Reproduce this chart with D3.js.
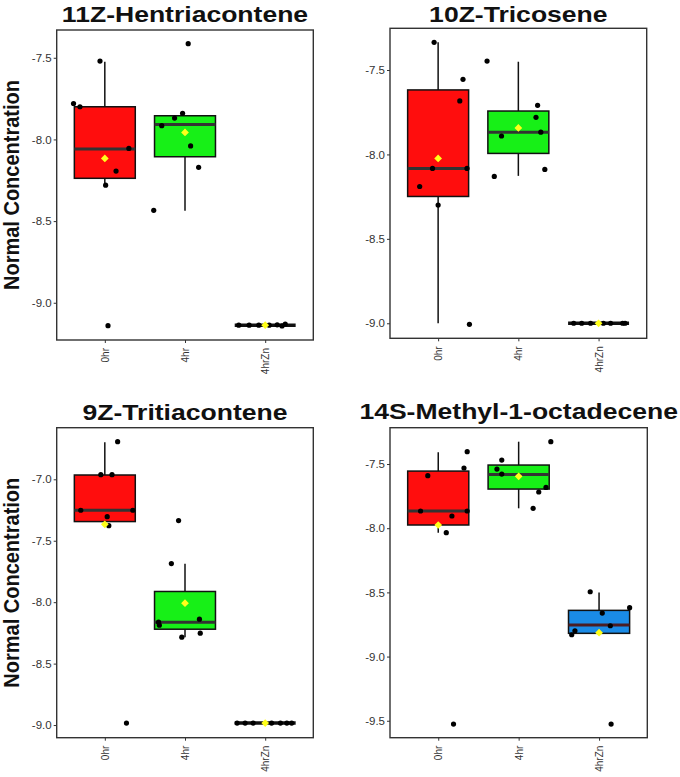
<!DOCTYPE html>
<html>
<head>
    <meta charset="utf-8">
    <title></title>
    <script src="https://d3js.org/d3.v7.min.js"></script>
    <style>
        body { margin: 0; background: #fff; }
        text { font-family: "Liberation Sans", Arial, sans-serif; }
    </style>
</head>
<body>
    <svg id="chart" width="680" height="777"></svg>

    <script>
    // groups and colours
    const groups = ["0hr", "4hr", "4hrZn"];
    const titles = ["11Z-Hentriacontene", "10Z-Tricosene", "9Z-Tritiacontene", "14S-Methyl-1-octadecene"];
    const boxFills = ["#ff0d0d", "#17f017", "#1a8be6"];
    const medianCols = ["#333333", "#333333", "#4b1c22"];

    // box stats per group: [lowWhisker, q1, median, q3, highWhisker, mean]
    const stats1 = [[-8.28, -8.238, -8.059, -7.80, -7.524, -8.116],
                    [-8.437, -8.106, -7.908, -7.855, -7.855, -7.957],
                    [-9.137, -9.137, -9.137, -9.137, -9.137, -9.137]];
    const stats2 = [[-9.0, -8.249, -8.083, -7.618, -7.336, -8.024],
                    [-8.127, -7.994, -7.868, -7.743, -7.451, -7.843],
                    [-9.0, -9.0, -9.0, -9.0, -9.0, -9.0]];
    const stats3 = [[-7.377, -7.344, -7.252, -6.965, -6.699, -7.366],
                    [-8.285, -8.22, -8.163, -7.913, -7.688, -8.008],
                    [-8.984, -8.984, -8.984, -8.984, -8.984, -8.984]];
    const stats4 = [[-8.035, -7.975, -7.866, -7.555, -7.409, -7.975],
                    [-7.845, -7.695, -7.581, -7.508, -7.326, -7.596],
                    [-8.83, -8.819, -8.755, -8.640, -8.5, -8.814]];

    // jittered sample values per group
    const vals1 = [[-7.78, -7.80, -7.52, -8.055, -8.194, -8.28, -9.14],
                   [-7.414, -7.84, -7.869, -7.916, -8.04, -8.171, -8.434],
                   [-9.137, -9.137, -9.137, -9.137, -9.135, -9.13, -9.142]];
    const vals2 = [[-7.336, -7.555, -7.683, -8.083, -8.083, -8.19, -8.30, -9.006],
                   [-7.447, -7.709, -7.78, -7.868, -7.891, -8.13, -8.089],
                   [-9.0, -9.0, -9.0, -9.0, -9.0, -9.0, -9.0]];
    const vals3 = [[-6.694, -6.962, -6.962, -7.252, -7.252, -7.304, -7.377, -8.984],
                   [-7.336, -7.686, -8.187, -8.163, -8.138, -8.252, -8.285],
                   [-8.984, -8.984, -8.984, -8.984, -8.984, -8.984, -8.984]];
    const vals4 = [[-7.404, -7.531, -7.591, -7.866, -7.866, -7.905, -8.035, -9.526],
                   [-7.326, -7.469, -7.539, -7.578, -7.718, -7.682, -7.845],
                   [-8.495, -8.661, -8.619, -8.760, -8.799, -8.830, -9.526]];

    // jitter (fraction of category step)
    const jit1 = [[-0.39, -0.31, -0.06, 0.30, 0.14, 0.01, 0.04],
                  [0.04, -0.03, -0.13, -0.29, 0.07, 0.17, -0.39],
                  [-0.33, -0.2, -0.08, 0.05, 0.15, 0.25, 0.21]];
    const jit2 = [[-0.05, 0.31, 0.27, -0.07, 0.36, -0.23, 0.0, 0.39],
                  [-0.39, 0.24, 0.22, 0.28, -0.21, -0.30, 0.33],
                  [-0.31, -0.21, -0.10, 0.06, 0.15, 0.30, 0.33]];
    const jit3 = [[0.16, -0.05, 0.09, -0.30, 0.35, 0.03, 0.05, 0.27],
                  [-0.08, -0.17, -0.32, -0.33, 0.18, 0.19, -0.04],
                  [-0.35, -0.25, -0.15, 0.08, 0.19, 0.27, 0.33]];
    const jit4 = [[0.36, 0.32, -0.13, -0.22, 0.36, 0.17, 0.10, 0.19],
                  [0.40, -0.21, -0.27, -0.21, 0.25, 0.34, 0.18],
                  [-0.11, 0.04, 0.38, 0.14, -0.30, -0.34, 0.15]];

    // y domains and tick values
    const domains = [[-9.228, -7.33], [-9.089, -7.253], [-9.103, -6.58], [-9.632, -7.217]];
    const ticks = [[-9, -8.5, -8, -7.5], [-9, -8.5, -8, -7.5],
                   [-9, -8.5, -8, -7.5, -7], [-9.5, -9, -8.5, -8, -7.5]];

    const allStats = [stats1, stats2, stats3, stats4];
    const allVals = [vals1, vals2, vals3, vals4];
    const allJit = [jit1, jit2, jit3, jit4];

    // panel frames
    const frames = [
        { x0: 56.7, x1: 313.3, y0: 30,    y1: 340,   tY: 22,  ylab: true },
        { x0: 390,  x1: 646.7, y0: 28.3,  y1: 338.3, tY: 21.7, ylab: false },
        { x0: 56.7, x1: 313.3, y0: 427.7, y1: 737.7, tY: 420, ylab: true },
        { x0: 390,  x1: 647.3, y0: 427.7, y1: 737.7, tY: 419, ylab: false }
    ];

    let svg = d3.select("#chart");

    frames.forEach(function(f, p) {
        let g = svg.append("g");
        let x = d3.scalePoint().domain(groups).range([f.x0, f.x1]).padding(0.6);
        let y = d3.scaleLinear().domain(domains[p]).range([f.y1, f.y0]);
        let step = x.step();
        let bw = step * 0.76;

        // title
        g.append("text")
            .attr("transform", "translate(" + ((f.x0 + f.x1) / 2) + "," + f.tY + ") scale(1.18,1)")
            .attr("text-anchor", "middle")
            .attr("font-size", 22.5).attr("font-weight", "bold")
            .attr("fill", "#111")
            .text(titles[p]);

        if (f.ylab) {
            g.append("text")
                .attr("transform", "translate(18.5," + ((f.y0 + f.y1) / 2) + ") scale(1.1,1) rotate(-90)")
                .attr("text-anchor", "middle")
                .attr("font-size", 20).attr("font-weight", "bold")
                .attr("fill", "#111")
                .text("Normal Concentration");
        }

        // axes
        let ya = g.append("g").attr("transform", "translate(" + f.x0 + ",0)")
            .call(d3.axisLeft(y).tickValues(ticks[p]).tickSize(3).tickPadding(2)
                .tickFormat(d => d.toFixed(1)));
        ya.select(".domain").remove();
        ya.selectAll("line").attr("stroke", "#333");
        ya.selectAll("text").attr("font-size", 11.5).attr("fill", "#333")
            .attr("font-family", "'Liberation Sans', Arial, sans-serif");

        let xa = g.append("g").attr("transform", "translate(0," + f.y1 + ")")
            .call(d3.axisBottom(x).tickSize(3).tickPadding(6));
        xa.select(".domain").remove();
        xa.selectAll("line").attr("stroke", "#333");
        xa.selectAll("text")
            .attr("font-size", 10).attr("fill", "#333")
            .attr("font-family", "'Liberation Sans', Arial, sans-serif")
            .attr("transform", "rotate(-90)")
            .attr("text-anchor", "end")
            .attr("dy", "0.35em")
            .attr("x", -8).attr("y", 0);

        // boxes
        let st = allStats[p];
        st.forEach(function(s, i) {
            let cx = x(groups[i]);
            // whiskers
            g.append("line").attr("x1", cx).attr("x2", cx)
                .attr("y1", y(s[3])).attr("y2", y(s[4]))
                .attr("stroke", "#111").attr("stroke-width", 1.5);
            g.append("line").attr("x1", cx).attr("x2", cx)
                .attr("y1", y(s[1])).attr("y2", y(s[0]))
                .attr("stroke", "#111").attr("stroke-width", 1.5);
            let flat = Math.abs(s[3] - s[1]) < 1e-6;
            if (!flat) {
                g.append("rect")
                    .attr("x", cx - bw / 2).attr("width", bw)
                    .attr("y", y(s[3])).attr("height", y(s[1]) - y(s[3]))
                    .attr("fill", boxFills[i])
                    .attr("stroke", "#111").attr("stroke-width", 1.5);
            }
            g.append("line")
                .attr("x1", cx - bw / 2).attr("x2", cx + bw / 2)
                .attr("y1", y(s[2])).attr("y2", y(s[2]))
                .attr("stroke", flat ? "#111" : medianCols[i])
                .attr("stroke-width", flat ? 3.5 : 3);
        });

        // points
        let pts = [];
        allVals[p].forEach(function(arr, i) {
            arr.forEach(function(v, k) {
                pts.push({ g: groups[i], j: allJit[p][i][k], v: v });
            });
        });
        g.selectAll("circle.pt").data(pts).enter().append("circle")
            .attr("class", "pt")
            .attr("cx", d => x(d.g) + d.j * step)
            .attr("cy", d => y(d.v))
            .attr("r", 2.6)
            .attr("fill", "#000");

        // means
        g.selectAll("path.mean").data(st).enter().append("path")
            .attr("class", "mean")
            .attr("d", d3.symbol().type(d3.symbolSquare).size(30))
            .attr("transform", (d, i) => "translate(" + x(groups[i]) + "," + y(d[5]) + ") rotate(45)")
            .attr("fill", "#ffff1a");

        // panel border
        g.append("rect")
            .attr("x", f.x0).attr("y", f.y0)
            .attr("width", f.x1 - f.x0).attr("height", f.y1 - f.y0)
            .attr("fill", "none")
            .attr("stroke", "#333").attr("stroke-width", 1.4);
    });
    </script>
</body>
</html>
